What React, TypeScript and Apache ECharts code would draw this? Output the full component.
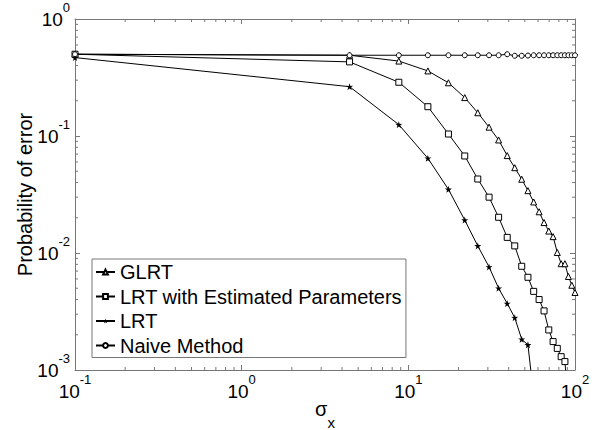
import React, { useEffect, useRef } from "react";
import * as echarts from "echarts";

const xValues = [0.1, 4.44, 8.77, 13.1, 17.4, 21.8, 26.1, 30.5, 34.8, 39.2, 43.5, 47.9, 52.2, 56.5, 60.9, 65.2, 69.6, 73.9, 78.3, 82.6, 87.0, 91.3, 95.7, 100];

const glrtValues = [0.5, 0.49, 0.437, 0.36, 0.285, 0.213, 0.158, 0.119, 0.0925, 0.068, 0.0536, 0.0427, 0.0341, 0.0273, 0.0225, 0.0182, 0.0154, 0.0138, 0.0101, 0.0081, 0.0081, 0.0063, 0.0053, 0.0046];
const estValues = [0.5, 0.43, 0.288, 0.178, 0.104, 0.0675, 0.0429, 0.03, 0.0202, 0.0136, 0.0115, 0.0077, 0.0062, 0.0047, 0.004, 0.0032, 0.0022, 0.00175, 0.00153, 0.0013, 0.00118, 0.0005, null, null];
const lrtValues = [0.468, 0.264, 0.125, 0.0645, 0.035, 0.0191, 0.0115, 0.0076, 0.005, 0.0037, 0.0028, 0.00183, 0.00164, 0.0006, null, null, null, null, null, null, null, null, null, null];
const naiveValues = [0.5, 0.49, 0.49, 0.49, 0.49, 0.49, 0.49, 0.49, 0.49, 0.5, 0.485, 0.485, 0.487, 0.49, 0.49, 0.49, 0.49, 0.49, 0.49, 0.49, 0.49, 0.49, 0.49, 0.49];

const seriesNames = ["GLRT", "LRT with Estimated Parameters", "LRT", "Naive Method"];

const xMinorTicks = [0.2, 0.3, 0.4, 0.5, 0.6, 0.7, 0.8, 0.9, 2, 3, 4, 5, 6, 7, 8, 9, 20, 30, 40, 50, 60, 70, 80, 90];
const yMinorTicks = [0.002, 0.003, 0.004, 0.005, 0.006, 0.007, 0.008, 0.009, 0.02, 0.03, 0.04, 0.05, 0.06, 0.07, 0.08, 0.09, 0.2, 0.3, 0.4, 0.5, 0.6, 0.7, 0.8, 0.9];

const X_MIN = 0.1, X_MAX = 100, Y_MIN = 0.001, Y_MAX = 1;

const FONT = "Arial, 'Liberation Sans', sans-serif";
const AXIS_COLOR = "#777";

const STAR = "path://M50,0 L61.8,35.1 L97.6,34.5 L68.7,55.9 L79.4,90.5 L50,69.5 L20.6,90.5 L31.3,55.9 L2.4,34.5 L38.2,35.1 Z";

function pairs(vals: (number | null)[]) {
  const out: number[][] = [];
  vals.forEach((v, i) => {
    if (v !== null) out.push([xValues[i], v]);
  });
  return out;
}

const powLabel = (v: number) => {
  const e = Math.round(Math.log10(v));
  return `{b|10}{s|${e}}`;
};

const labelRich = {
  b: { fontSize: 19, fontFamily: FONT, color: "#000", lineHeight: 36 },
  s: { fontSize: 13, fontFamily: FONT, color: "#000", lineHeight: 18, verticalAlign: "top" },
};

export default function App() {
  const ref = useRef<HTMLDivElement>(null);
  useEffect(() => {
    if (!ref.current) return;
    const chart = echarts.init(ref.current, null, { renderer: "svg" });
    const lineBase = {
      type: "line",
      xAxisIndex: 0,
      yAxisIndex: 0,
      lineStyle: { color: "#000", width: 1 },
      clip: true,
      z: 3,
    };
    const option: any = {
      animation: false,
      backgroundColor: "#fff",
      grid: { left: 75, top: 19, width: 500, height: 351, containLabel: false, outerBoundsMode: "none" },
      legend: {
        data: seriesNames,
        orient: "vertical",
        left: 92,
        top: 259,
        padding: [3, 4, 2, 3],
        itemGap: 4.5,
        itemWidth: 19,
        itemHeight: 6,
        borderColor: AXIS_COLOR,
        borderWidth: 1,
        borderRadius: 0,
        backgroundColor: "#fff",
        textStyle: { fontSize: 20, fontFamily: FONT, color: "#000", lineHeight: 20 },
        selectedMode: false,
        z: 10,
      },
      xAxis: [
        {
          type: "log",
          logBase: 10,
          min: X_MIN,
          max: X_MAX,
          position: "bottom",
          name: "{a|σ}{x|x}",
          nameLocation: "middle",
          nameGap: 29,
          nameMoveOverlap: false,
          nameTextStyle: {
            rich: {
              a: { fontSize: 20, fontFamily: FONT, color: "#000", lineHeight: 20 },
              x: { fontSize: 15, fontFamily: FONT, color: "#000", lineHeight: 15, padding: [26, 0, 0, 0] },
            },
          },
          axisLine: { show: true, lineStyle: { color: AXIS_COLOR, width: 1 } },
          axisTick: { show: true, inside: true, length: 5, lineStyle: { color: AXIS_COLOR } },
          axisLabel: { formatter: powLabel, margin: 3, rich: labelRich },
          splitLine: { show: false },
        },
        {
          type: "log",
          logBase: 10,
          min: X_MIN,
          max: X_MAX,
          position: "top",
          axisLine: { show: true, lineStyle: { color: AXIS_COLOR, width: 1 } },
          axisTick: { show: true, inside: true, length: 5, lineStyle: { color: AXIS_COLOR } },
          axisLabel: { show: false },
          splitLine: { show: false },
        },
      ],
      yAxis: [
        {
          type: "log",
          logBase: 10,
          min: Y_MIN,
          max: Y_MAX,
          position: "left",
          name: "Probability of error",
          nameLocation: "middle",
          nameGap: 40,
          nameMoveOverlap: false,
          nameTextStyle: { fontSize: 20, fontFamily: FONT, color: "#000" },
          axisLine: { show: true, lineStyle: { color: AXIS_COLOR, width: 1 } },
          axisTick: { show: true, inside: true, length: 5, lineStyle: { color: AXIS_COLOR } },
          axisLabel: { formatter: powLabel, margin: 5, rich: labelRich },
          splitLine: { show: false },
        },
        {
          type: "log",
          logBase: 10,
          min: Y_MIN,
          max: Y_MAX,
          position: "right",
          axisLine: { show: true, lineStyle: { color: AXIS_COLOR, width: 1 } },
          axisTick: { show: true, inside: true, length: 5, lineStyle: { color: AXIS_COLOR } },
          axisLabel: { show: false },
          splitLine: { show: false },
        },
      ],
      series: [
        {
          ...lineBase,
          name: seriesNames[0],
          data: pairs(glrtValues),
          symbol: "triangle",
          symbolSize: 6,
          itemStyle: { color: "#fff", borderColor: "#000", borderWidth: 1 },
        },
        {
          ...lineBase,
          name: seriesNames[1],
          data: pairs(estValues),
          symbol: "rect",
          symbolSize: 6,
          itemStyle: { color: "#fff", borderColor: "#000", borderWidth: 1 },
        },
        {
          ...lineBase,
          name: seriesNames[2],
          data: pairs(lrtValues),
          symbol: STAR,
          symbolSize: 7,
          itemStyle: { color: "#000", borderColor: "#000", borderWidth: 0 },
        },
        {
          ...lineBase,
          name: seriesNames[3],
          data: pairs(naiveValues),
          symbol: "circle",
          symbolSize: 5,
          itemStyle: { color: "#fff", borderColor: "#000", borderWidth: 1 },
        },
        {
          type: "custom",
          name: "xminor",
          xAxisIndex: 0,
          yAxisIndex: 0,
          silent: true,
          clip: false,
          z: 2,
          data: xMinorTicks.map((v) => [v, Y_MIN]),
          renderItem: (params: any, api: any) => {
            const xv = api.value(0);
            const b = api.coord([xv, Y_MIN]);
            const t = api.coord([xv, Y_MAX]);
            const style = { stroke: AXIS_COLOR, lineWidth: 1 };
            return {
              type: "group",
              children: [
                { type: "line", shape: { x1: b[0], y1: b[1], x2: b[0], y2: b[1] - 3 }, style },
                { type: "line", shape: { x1: t[0], y1: t[1], x2: t[0], y2: t[1] + 3 }, style },
              ],
            };
          },
        },
        {
          type: "custom",
          name: "yminor",
          xAxisIndex: 0,
          yAxisIndex: 0,
          silent: true,
          clip: false,
          z: 2,
          data: yMinorTicks.map((v) => [X_MIN, v]),
          renderItem: (params: any, api: any) => {
            const yv = api.value(1);
            const l = api.coord([X_MIN, yv]);
            const r = api.coord([X_MAX, yv]);
            const style = { stroke: AXIS_COLOR, lineWidth: 1 };
            return {
              type: "group",
              children: [
                { type: "line", shape: { x1: l[0], y1: l[1], x2: l[0] + 3, y2: l[1] }, style },
                { type: "line", shape: { x1: r[0], y1: r[1], x2: r[0] - 3, y2: r[1] }, style },
              ],
            };
          },
        },
      ],
    };
    chart.setOption(option);
    return () => chart.dispose();
  }, []);
  return (
    <div
      ref={ref}
      style={{ position: "fixed", left: 0, top: 0, width: 599, height: 430, background: "#fff" }}
    />
  );
}
